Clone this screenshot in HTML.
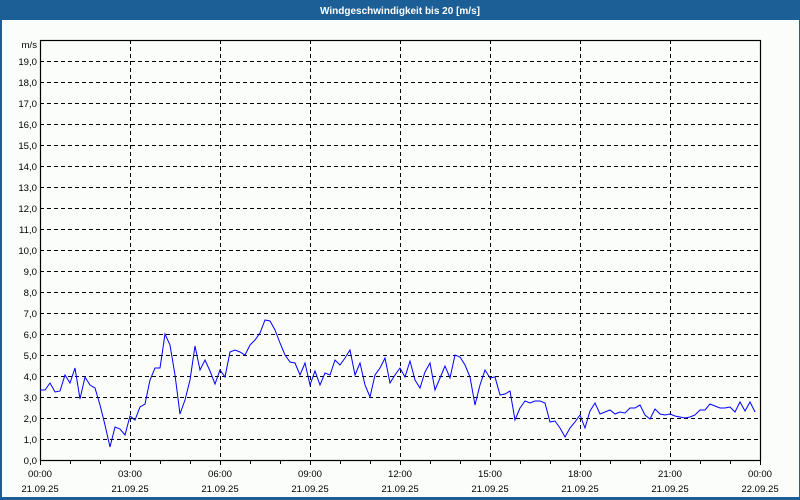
<!DOCTYPE html>
<html><head><meta charset="utf-8"><style>
html,body{margin:0;padding:0;background:#fff}
svg{display:block}
text{font-family:"Liberation Sans",sans-serif;font-size:9.6px;fill:#000}
</style></head><body>
<svg width="800" height="500" viewBox="0 0 800 500" xmlns="http://www.w3.org/2000/svg">
<rect x="0" y="0" width="800" height="500" fill="#1c5f96"/>
<rect x="2" y="20" width="797" height="477" fill="#fbfdfb"/>
<text x="400" y="14" text-anchor="middle" style="fill:#fff;font-weight:bold;font-size:10px">Windgeschwindigkeit bis 20 [m/s]</text>
<g stroke="#000" stroke-width="1" stroke-dasharray="4,3" fill="none">
<path d="M40 61.5H760M40 82.5H760M40 103.5H760M40 124.5H760M40 145.5H760M40 166.5H760M40 187.5H760M40 208.5H760M40 229.5H760M40 250.5H760M40 271.5H760M40 292.5H760M40 313.5H760M40 334.5H760M40 355.5H760M40 376.5H760M40 397.5H760M40 418.5H760M40 439.5H760"/>
<path d="M130.5 40V460M220.5 40V460M310.5 40V460M400.5 40V460M490.5 40V460M580.5 40V460M670.5 40V460"/>
</g>
<rect x="40.5" y="40.5" width="720" height="420" fill="none" stroke="#000" stroke-width="1.2"/>
<g stroke="#000" stroke-width="1">
<path d="M40.5 460v5M70.5 460v4M100.5 460v4M130.5 460v5M160.5 460v4M190.5 460v4M220.5 460v5M250.5 460v4M280.5 460v4M310.5 460v5M340.5 460v4M370.5 460v4M400.5 460v5M430.5 460v4M460.5 460v4M490.5 460v5M520.5 460v4M550.5 460v4M580.5 460v5M610.5 460v4M640.5 460v4M670.5 460v5M700.5 460v4M730.5 460v4M760.5 460v5"/>
</g>
<g text-anchor="end">
<text x="37" y="48">m/s</text>
<text x="37" y="65">19,0</text><text x="37" y="86">18,0</text><text x="37" y="107">17,0</text><text x="37" y="128">16,0</text><text x="37" y="149">15,0</text><text x="37" y="170">14,0</text><text x="37" y="191">13,0</text><text x="37" y="212">12,0</text><text x="37" y="233">11,0</text><text x="37" y="254">10,0</text><text x="37" y="275">9,0</text><text x="37" y="296">8,0</text><text x="37" y="317">7,0</text><text x="37" y="338">6,0</text><text x="37" y="359">5,0</text><text x="37" y="380">4,0</text><text x="37" y="401">3,0</text><text x="37" y="422">2,0</text><text x="37" y="443">1,0</text><text x="37" y="464">0,0</text>
</g>
<g text-anchor="middle">
<text x="40" y="477">00:00</text><text x="130" y="477">03:00</text><text x="220" y="477">06:00</text><text x="310" y="477">09:00</text><text x="400" y="477">12:00</text><text x="490" y="477">15:00</text><text x="580" y="477">18:00</text><text x="670" y="477">21:00</text><text x="760" y="477">00:00</text>
<text x="40" y="492">21.09.25</text><text x="130" y="492">21.09.25</text><text x="220" y="492">21.09.25</text><text x="310" y="492">21.09.25</text><text x="400" y="492">21.09.25</text><text x="490" y="492">21.09.25</text><text x="580" y="492">21.09.25</text><text x="670" y="492">21.09.25</text><text x="760" y="492">22.09.25</text>
</g>
<polyline fill="none" stroke="#0000ff" stroke-width="1" points="40,390 45,390 50,383 55,392 60,391 65,375 70,383 75,368 80,399 85,377 90,385 95,388 100,405 105,425 110,447 115,427 120,429 125,435 130,416 135,420 140,407 145,404 150,380 155,368 160,368 165,334 170,345 175,375 180,414 185,400 190,380 195,346 200,370 205,360 210,371 215,384 220,370 225,377 230,352 235,350 240,352 245,355 250,345 255,340 260,333 265,320 270,321 275,330 280,343 285,355 290,362 295,363 300,375 305,363 310,385 315,371 320,385 325,373 330,375 335,360 340,365 345,358 350,350 355,375 360,363 365,385 370,397 375,375 380,368 385,358 390,383 395,375 400,368 405,377 410,361 415,380 420,388 425,372 430,363 435,390 440,378 445,366 450,378 455,355 460,357 465,365 470,377 475,405 480,385 485,370 490,378 495,377 500,395 505,394 510,391 515,420 520,408 525,401 530,403 535,401 540,401 545,403 550,422 555,421 560,428 565,437 570,428 575,422 580,415 585,428 590,411 595,403 600,414 605,412 610,410 615,414 620,412 625,413 630,408 635,408 640,405 645,415 650,419 655,409 660,414 665,415 670,414 675,416 680,417 685,418 690,417 695,415 700,410 705,410 710,404 715,406 720,408 725,408 730,407 735,412 740,402 745,411 750,402 755,412"/>
</svg>
</body></html>
